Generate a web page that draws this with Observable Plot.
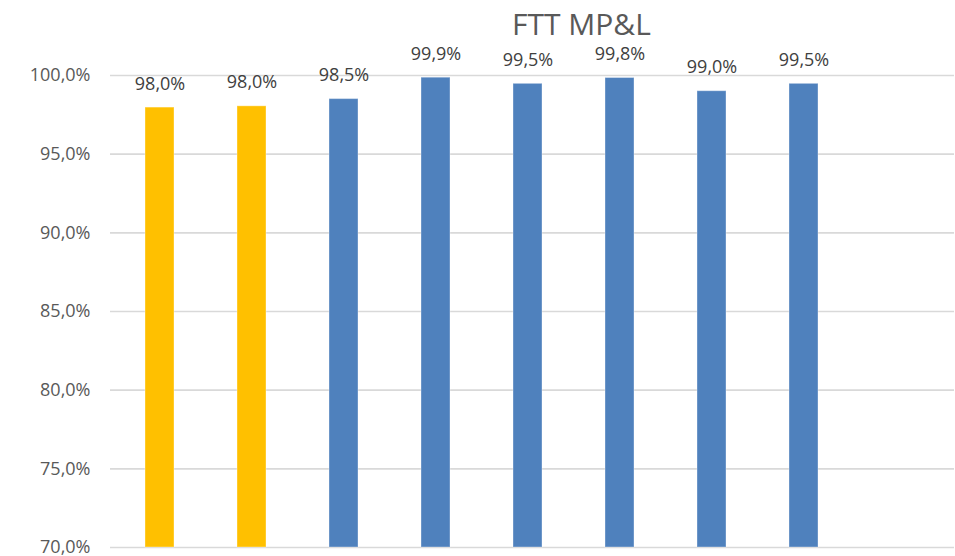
<!DOCTYPE html>
<html>
<head>
<meta charset="utf-8">
<script src="https://cdn.jsdelivr.net/npm/d3@7"></script>
<script src="https://cdn.jsdelivr.net/npm/@observablehq/plot@0.6"></script>
<style>
  html, body { margin: 0; padding: 0; background: #fff; }
  #wrap { position: relative; width: 955px; height: 556px; }
  #title { position: absolute; left: 512px; top: 9px; font-family: "Open Sans", sans-serif; font-size: 30px; line-height: 30px; color: #595959; white-space: nowrap; }
</style>
</head>
<body>
<div id="wrap">
  <div id="chart"></div>
  <div id="title">FTT MP&amp;L</div>
</div>
<script>
const categories = ["1", "2", "3", "4", "5", "6", "7", "8", "9"];
const values = [97.96, 98.04, 98.5, 99.86, 99.47, 99.84, 99.0, 99.47];
const barColors = ["#FFC000", "#FFC000", "#4F81BD", "#4F81BD", "#4F81BD", "#4F81BD", "#4F81BD", "#4F81BD"];
const yTicks = [70, 75, 80, 85, 90, 95, 100];

const data = values.map((v, i) => ({cat: categories[i], value: v, color: barColors[i]}));
const fmt = v => v.toFixed(1).replace(".", ",") + "%";

const chart = Plot.plot({
  width: 955,
  height: 556,
  marginTop: 75,
  marginBottom: 9,
  marginLeft: 110,
  marginRight: 1,
  style: {fontFamily: "'Open Sans', sans-serif", background: "#fff", overflow: "visible"},
  x: {domain: categories, range: [110, 944], paddingInner: 0.69, paddingOuter: 0.345, axis: null},
  y: {domain: [70, 100], ticks: yTicks, tickFormat: fmt, tickSize: 0, tickPadding: 20, label: null},
  marks: [
    Plot.ruleY(yTicks, {stroke: "#d9d9d9", strokeWidth: 1.6}),
    Plot.barY(data, {x: "cat", y1: 70, y2: "value", fill: "color", stroke: "#ffffff", strokeOpacity: 0.35, strokeWidth: 1}),
    Plot.text(data, {x: "cat", y: "value", text: d => fmt(d.value), lineAnchor: "bottom", dy: -18, fill: "#404040", fontSize: 18}),
    Plot.axisY({ticks: yTicks, tickFormat: fmt, tickSize: 0, tickPadding: 20, fontSize: 18, color: "#595959", label: null})
  ]
});
document.getElementById("chart").appendChild(chart);
</script>
</body>
</html>
